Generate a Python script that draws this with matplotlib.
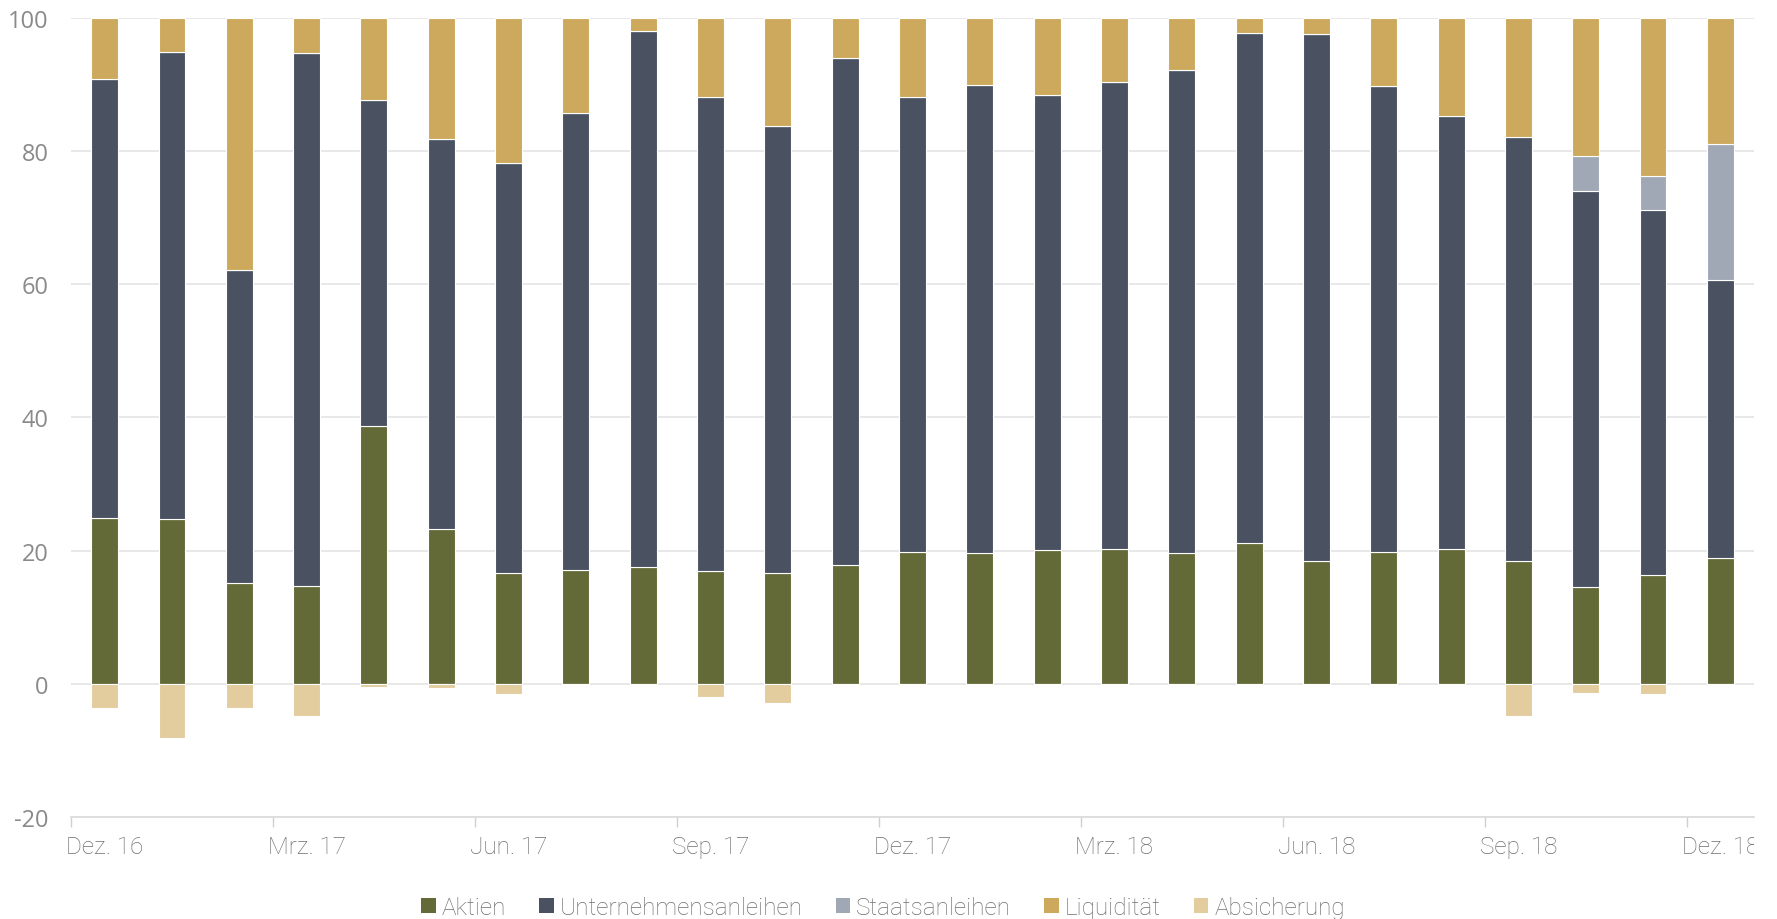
import numpy as np
import matplotlib.pyplot as plt
from matplotlib.patches import Patch
from matplotlib.transforms import Bbox, TransformedBbox

plt.rcParams["axes.unicode_minus"] = False

# Monate (Dez. 16 bis Dez. 18)
monate = ["Dez. 16", "Jan. 17", "Feb. 17", "Mrz. 17", "Apr. 17", "Mai. 17",
          "Jun. 17", "Jul. 17", "Aug. 17", "Sep. 17", "Okt. 17", "Nov. 17",
          "Dez. 17", "Jan. 18", "Feb. 18", "Mrz. 18", "Apr. 18", "Mai. 18",
          "Jun. 18", "Jul. 18", "Aug. 18", "Sep. 18", "Okt. 18", "Nov. 18",
          "Dez. 18"]

aktien = [24.9, 24.7, 15.2, 14.7, 38.7, 23.2, 16.7, 17.1, 17.6, 16.9, 16.6, 17.9,
          19.8, 19.6, 20.1, 20.3, 19.6, 21.2, 18.4, 19.8, 20.3, 18.4, 14.5, 16.4, 18.9]
unternehmensanleihen = [65.9, 70.2, 46.9, 80.0, 49.0, 58.7, 61.5, 68.6, 80.4, 71.2,
                        67.2, 76.1, 68.4, 70.3, 68.3, 70.1, 72.6, 76.6, 79.2, 70.0,
                        65.0, 63.7, 59.5, 54.8, 41.7]
staatsanleihen = [0, 0, 0, 0, 0, 0, 0, 0, 0, 0, 0, 0,
                  0, 0, 0, 0, 0, 0, 0, 0, 0, 0, 5.3, 5.0, 20.5]
liquiditaet = [9.2, 5.1, 37.9, 5.3, 12.3, 18.1, 21.8, 14.3, 2.0, 11.9, 16.2, 6.0,
               11.8, 10.1, 11.6, 9.6, 7.8, 2.2, 2.4, 10.2, 14.7, 17.9, 20.7, 23.8, 18.9]
absicherung = [-3.7, -8.2, -3.6, -4.8, -0.5, -0.7, -1.5, 0, 0, -2.0, -2.9, 0,
               0, 0, 0, 0, 0, 0, 0, 0, 0, -4.8, -1.4, -1.5, 0]

farben = {
    "Aktien": "#636a37",
    "Unternehmensanleihen": "#4a5262",
    "Staatsanleihen": "#a1a8b5",
    "Liquidität": "#cda95d",
    "Absicherung": "#e3cc9e",
}

fig = plt.figure(figsize=(17.77, 9.2), dpi=100)
ax = fig.add_axes([71 / 1777, 1 - 818 / 920, (1754 - 71) / 1777, (818 - 19) / 920])

x = np.arange(len(monate))
breite = 0.4
a = np.array(aktien)
u = np.array(unternehmensanleihen)
s = np.array(staatsanleihen)
l = np.array(liquiditaet)
kw = dict(width=breite, edgecolor="white", linewidth=0.8, zorder=3)

ax.bar(x, a, color=farben["Aktien"], **kw)
ax.bar(x, u, bottom=a, color=farben["Unternehmensanleihen"], **kw)
ax.bar(x, s, bottom=a + u, color=farben["Staatsanleihen"], **kw)
ax.bar(x, l, bottom=a + u + s, color=farben["Liquidität"], **kw)
ax.bar(x, absicherung, color=farben["Absicherung"], **kw)

ax.set_xlim(-0.5, 24.5)
ax.set_ylim(-20, 100)
ax.set_yticks(range(-20, 101, 20))
ax.grid(axis="y", color="#e6e6e6", linewidth=1.3, zorder=0)
ax.set_axisbelow(True)

for sp in ["top", "right", "left"]:
    ax.spines[sp].set_visible(False)
ax.spines["bottom"].set_color("#dcdcdc")
ax.spines["bottom"].set_linewidth(1.3)

# Beschriftungen alle 3 Monate, Striche an den Kategoriegrenzen
pos = x[::3]
ax.set_xticks(pos)
ax.set_xticklabels([monate[i] for i in pos], fontfamily="Roboto",
                   fontweight="light", fontsize=17.5, color="#6e6e6e")
ax.set_xticks(pos - 0.5, minor=True)
ax.tick_params(axis="x", which="major", length=0, pad=13)
ax.tick_params(axis="x", which="minor", length=7, width=1, color="#d0d0d0")
ax.tick_params(axis="y", length=0, pad=16)
for t in ax.get_yticklabels():
    t.set_fontfamily("Open Sans")
    t.set_fontsize(17)
    t.set_color("#8a8a8a")

# letzte Beschriftung wird am Rand abgeschnitten
clip = TransformedBbox(Bbox([[0, 0], [1754 / 1777, 1]]), fig.transFigure)
for t in ax.get_xticklabels():
    t.set_clip_on(True)
    t.set_clip_box(clip)

handles = [Patch(facecolor=c, edgecolor="none", label=n) for n, c in farben.items()]
fig.legend(handles=handles, loc="lower center", bbox_to_anchor=(0.497, -0.024),
           ncol=5, frameon=False, handlelength=0.6, handleheight=0.6,
           handletextpad=0.25, columnspacing=1.35,
           prop={"family": "Roboto", "weight": "light", "size": 17.5},
           labelcolor="#6e6e6e")

fig.savefig("out.png", dpi=100)
